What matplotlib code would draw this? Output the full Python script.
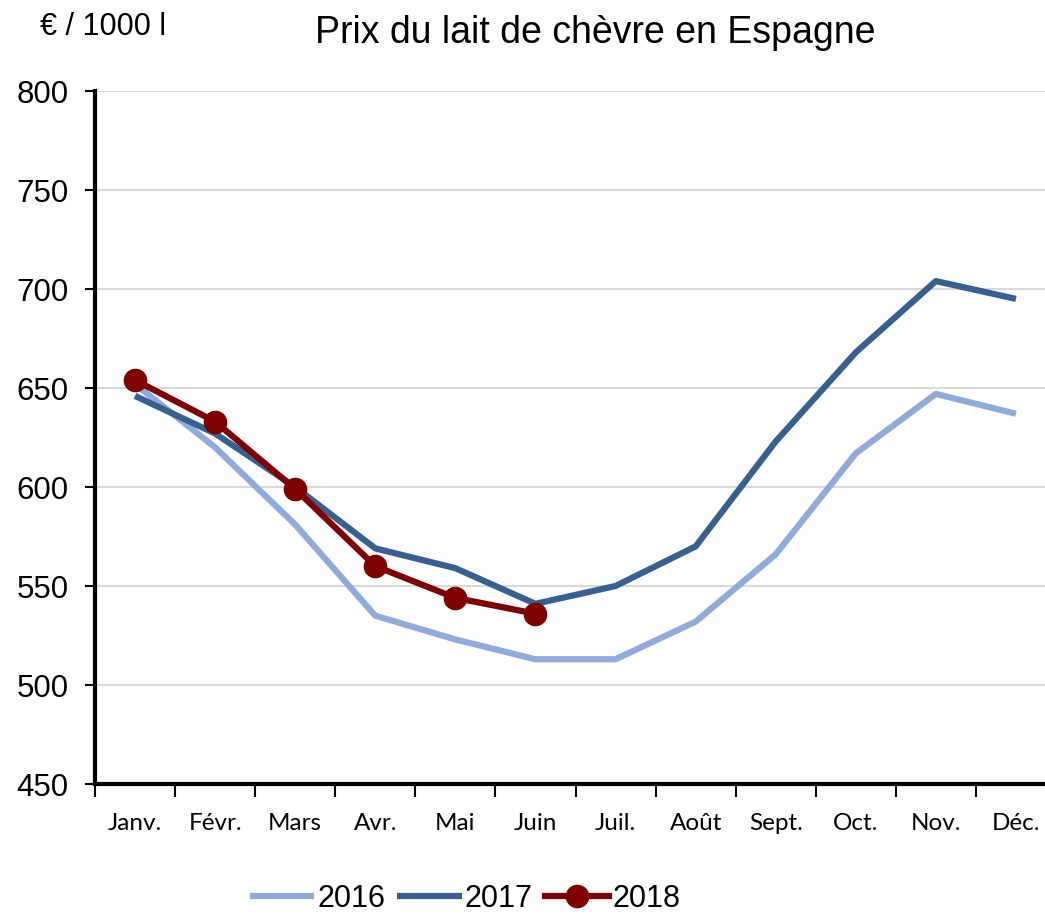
import matplotlib
matplotlib.use("Agg")
import matplotlib.pyplot as plt
from matplotlib.ticker import FixedLocator

months = ["Janv.", "Févr.", "Mars", "Avr.", "Mai", "Juin",
          "Juil.", "Août", "Sept.", "Oct.", "Nov.", "Déc."]
prix_2016 = [652, 620, 581, 535, 523, 513, 513, 532, 566, 617, 647, 637]
prix_2017 = [646, 627, 600, 569, 559, 541, 550, 570, 623, 668, 704, 695]
prix_2018 = [654, 633, 599, 560, 544, 536]

plt.rcParams["font.family"] = ["Liberation Sans", "DejaVu Sans"]

fig = plt.figure(figsize=(10.45, 9.16), dpi=100)
# the plot area runs a little past the right edge, as in the original
ax = fig.add_axes([95 / 1045, 1 - 784 / 916, 961 / 1045, 693 / 916])

x = list(range(len(months)))
ax.plot(x, prix_2016, color="#8faadc", lw=4.5, label="2016", solid_capstyle="butt")
ax.plot(x, prix_2017, color="#366092", lw=4.5, label="2017", solid_capstyle="butt")
ax.plot(x[:len(prix_2018)], prix_2018, color="#800000", lw=4.5, marker="o",
        markersize=16, label="2018")

ax.set_xlim(-0.5, 11.5)
ax.set_ylim(450, 800)
ax.set_yticks(range(450, 801, 50))
ax.yaxis.grid(True, color="#d9d9d9", lw=1.5)
ax.set_axisbelow(True)

ax.set_xticks(x)
ax.set_xticklabels(months, family=["Lato", "DejaVu Sans"], fontsize=17.5)
ax.xaxis.set_minor_locator(FixedLocator([i - 0.5 for i in range(13)]))
ax.tick_params(axis="x", which="major", length=0, pad=21)
ax.tick_params(axis="x", which="minor", length=9, width=1.5, direction="out")
ax.tick_params(axis="y", labelsize=22.5, length=7, width=1.5, direction="out", pad=12)

for side in ["top", "right"]:
    ax.spines[side].set_visible(False)
for side in ["left", "bottom"]:
    ax.spines[side].set_linewidth(3)

fig.text(595 / 1045, 1 - 33 / 916, "Prix du lait de chèvre en Espagne", fontsize=27,
         ha="center", va="center")
fig.text(40 / 1045, 1 - 27 / 916, "€ / 1000 l", fontsize=22, ha="left", va="center")

fig.legend(loc="center", bbox_to_anchor=(465 / 1045, 1 - 899 / 916), ncol=3,
           frameon=False, fontsize=22, handlelength=2.1, columnspacing=0.4,
           handletextpad=0.1, borderpad=0.2)

fig.savefig("out.png", dpi=100)
